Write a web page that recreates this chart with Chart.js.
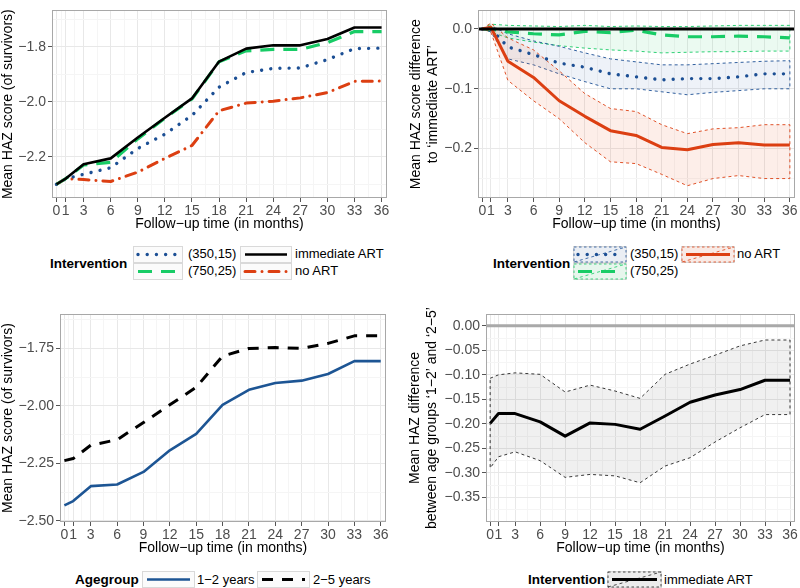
<!DOCTYPE html>
<html><head><meta charset="utf-8">
<script src="https://cdn.jsdelivr.net/npm/chart.js@4.4.0/dist/chart.umd.min.js"></script>
<style>
body{margin:0;background:#fff;width:800px;height:588px;position:relative;overflow:hidden;font-family:"Liberation Sans",Arial,sans-serif;}
canvas{position:absolute;}
.t{position:absolute;font-size:13px;line-height:16px;color:#000;white-space:nowrap;}
.b{font-weight:bold;font-size:13.5px;}
svg{position:absolute;}
</style></head>
<body>
<canvas id="c1" width="400" height="235" style="left:0;top:0"></canvas>
<canvas id="c2" width="400" height="235" style="left:400px;top:0"></canvas>
<canvas id="c3" width="400" height="259" style="left:0;top:300px"></canvas>
<canvas id="c4" width="400" height="259" style="left:400px;top:300px"></canvas>
<script>
// ---------------- data ----------------
const months = [0,1,3,6,9,12,15,18,21,24,27,30,33,36];
const xMinor = [0.5,2,4.5,7.5,10.5,13.5,16.5,19.5,22.5,25.5,28.5,31.5,34.5];
const seriesNames = ['(350,15)','(750,25)','immediate ART','no ART'];
const ageNames = ['1\u22122 years','2\u22125 years'];

// panel 1: mean HAZ of survivors by intervention
const hazImmediate = [-2.30,-2.28,-2.227,-2.206,-2.13,-2.058,-1.988,-1.854,-1.807,-1.795,-1.795,-1.772,-1.73,-1.73];
const haz750 = [-2.30,-2.28,-2.23,-2.22,-2.135,-2.06,-1.99,-1.855,-1.815,-1.81,-1.81,-1.785,-1.745,-1.745];
const haz350 = [-2.30,-2.28,-2.264,-2.24,-2.17,-2.118,-2.05,-1.947,-1.894,-1.879,-1.877,-1.847,-1.807,-1.805];
const hazNoArt = [-2.30,-2.28,-2.283,-2.29,-2.256,-2.206,-2.159,-2.033,-2.005,-1.998,-1.986,-1.967,-1.926,-1.925];

// panel 2: difference to immediate ART with intervals
const diff750 = [0,0,-0.005,-0.008,-0.01,-0.004,-0.006,-0.002,-0.01,-0.013,-0.013,-0.012,-0.013,-0.015];
const diff750Hi = [0,0.008,0.006,0.005,0.004,0.006,0.004,0.005,0.004,0.004,0.005,0.006,0.006,0.006];
const diff750Lo = [0,-0.005,-0.015,-0.022,-0.028,-0.032,-0.035,-0.037,-0.04,-0.039,-0.038,-0.038,-0.037,-0.037];
const diff350 = [0,0,-0.03,-0.043,-0.057,-0.064,-0.075,-0.08,-0.085,-0.083,-0.083,-0.08,-0.075,-0.075];
const diff350Hi = [0,0.005,-0.008,-0.02,-0.029,-0.04,-0.05,-0.055,-0.06,-0.06,-0.058,-0.056,-0.054,-0.053];
const diff350Lo = [0,-0.005,-0.05,-0.06,-0.075,-0.088,-0.1,-0.1,-0.105,-0.11,-0.106,-0.103,-0.1,-0.1];
const diffNoArt = [0,0.003,-0.054,-0.081,-0.12,-0.146,-0.17,-0.178,-0.198,-0.202,-0.193,-0.19,-0.194,-0.194];
const diffNoArtHi = [0,0.01,-0.015,-0.035,-0.07,-0.108,-0.133,-0.138,-0.16,-0.175,-0.167,-0.165,-0.16,-0.16];
const diffNoArtLo = [0,-0.005,-0.086,-0.12,-0.15,-0.19,-0.222,-0.225,-0.243,-0.262,-0.25,-0.245,-0.25,-0.25];

// panel 3: mean HAZ by age group
const hazAge12 = [-2.433,-2.414,-2.349,-2.342,-2.287,-2.193,-2.122,-1.995,-1.93,-1.90,-1.89,-1.861,-1.805,-1.805];
const hazAge25 = [-2.238,-2.229,-2.171,-2.147,-2.072,-1.995,-1.919,-1.783,-1.75,-1.746,-1.75,-1.728,-1.695,-1.695];

// panel 4: difference between age groups (immediate ART)
const ageDiff = [-0.199,-0.179,-0.179,-0.196,-0.225,-0.198,-0.201,-0.211,-0.184,-0.156,-0.141,-0.13,-0.111,-0.111];
const ageDiffHi = [-0.107,-0.10,-0.096,-0.099,-0.135,-0.121,-0.133,-0.148,-0.099,-0.078,-0.06,-0.041,-0.029,-0.029];
const ageDiffLo = [-0.29,-0.267,-0.257,-0.275,-0.309,-0.303,-0.306,-0.32,-0.286,-0.269,-0.237,-0.208,-0.181,-0.181];

// tick values
const p1Major = [-2.2,-2.0,-1.8], p1Minor = [-2.3,-2.1,-1.9,-1.7];
const p2Major = [-0.2,-0.1,0.0], p2Minor = [-0.25,-0.15,-0.05];
const p3Major = [-2.5,-2.25,-2.0,-1.75], p3Minor = [-2.375,-2.125,-1.875,-1.625];
const p4Major = [-0.35,-0.30,-0.25,-0.20,-0.15,-0.10,-0.05,0.00];
const p4Minor = [-0.375,-0.325,-0.275,-0.225,-0.175,-0.125,-0.075,-0.025];

// ---------------- styling ----------------
const FONT = '"Liberation Sans", Arial, sans-serif';
const BLUE = '#1c4f94', GREEN = '#18cc66', RED = '#dc3f12', BLACK = '#000000', AGEBLUE = '#1d5594';

function mkTicks(major, minor){
  return major.map(v=>({value:v,isMinor:false})).concat(minor.map(v=>({value:v,isMinor:true}))).sort((a,b)=>a.value-b.value);
}
function fmt(d){ return v => (v < -1e-9 ? '\u2212' : '') + Math.abs(v).toFixed(d); }
const gridColor = c => (c.tick && c.tick.isMinor) ? '#f5f5f5' : '#e8e8e8';
const tickColor = c => (c.tick && c.tick.isMinor) ? 'rgba(0,0,0,0)' : '#555555';

function axes(o){
  return {
    x:{type:'linear', min:-0.5, max:36.6,
      afterBuildTicks:s=>{s.ticks=mkTicks(months,xMinor);},
      afterFit:s=>{s.height=37;},
      grid:{color:gridColor,tickColor:tickColor,tickLength:4,lineWidth:1},
      border:{display:false},
      ticks:{autoSkip:false,maxRotation:0,minRotation:0,padding:1,color:'#4d4d4d',font:{family:FONT,size:14},
        callback:(v,i,t)=>t[i].isMinor?'':String(v)},
      title:{display:true,text:'Follow\u2212up time (in months)',color:'#000',font:{family:FONT,size:14},padding:{top:0,bottom:2}}},
    y:{type:'linear',min:o.min,max:o.max,
      afterBuildTicks:s=>{s.ticks=mkTicks(o.major,o.minor);},
      afterFit:s=>{s.width=o.w;},
      grid:{color:gridColor,tickColor:tickColor,tickLength:4,lineWidth:1},
      border:{display:false},
      ticks:{autoSkip:false,padding:2,color:'#4d4d4d',font:{family:FONT,size:14},
        callback:(v,i,t)=>t[i].isMinor?'':o.fmt(v)},
      title:{display:true,text:o.title,color:'#000',font:{family:FONT,size:14,lineHeight:1.2},padding:{top:o.tp,bottom:0}}}
  };
}

function line(arr, color, width, dash, cap){
  return {data: months.map((m,i)=>({x:m,y:arr[i]})), borderColor:color, borderWidth:width,
    borderDash:dash||[], borderCapStyle:cap||'butt', borderJoinStyle:'round', pointRadius:0, fill:false, tension:0};
}
function ribbon(hi, lo, color, fillColor){
  const outline = months.map((m,i)=>({x:m,y:hi[i]}))
    .concat(months.slice().reverse().map((m,j)=>({x:m,y:lo[months.length-1-j]})))
    .concat([{x:months[0],y:hi[0]}]);
  return [
    {data:outline, borderColor:color, borderWidth:0.9, borderDash:[3,3], pointRadius:0, fill:false, tension:0},
    {data:months.map((m,i)=>({x:m,y:hi[i]})), borderWidth:0, pointRadius:0, fill:'+1', backgroundColor:fillColor, tension:0},
    {data:months.map((m,i)=>({x:m,y:lo[i]})), borderWidth:0, pointRadius:0, fill:false, tension:0}
  ];
}

const boxPlugin = {id:'box', afterDatasetsDraw(chart){
  const a=chart.chartArea, c=chart.ctx; c.save(); c.strokeStyle='#a8a8a8'; c.lineWidth=1;
  c.strokeRect(Math.round(a.left)+0.5, Math.round(a.top)+0.5, Math.round(a.right-a.left)-1, Math.round(a.bottom-a.top)-1);
  c.restore();
}};
function hline(value, color, width){
  return {id:'hline', afterDatasetsDraw(chart){
    const a=chart.chartArea, c=chart.ctx, y=chart.scales.y.getPixelForValue(value);
    c.save(); c.strokeStyle=color; c.lineWidth=width; c.beginPath(); c.moveTo(a.left+1,y); c.lineTo(a.right-1,y); c.stroke(); c.restore();
  }};
}

function make(id, datasets, ax, pad, plugins){
  return new Chart(document.getElementById(id), {
    type:'line', data:{datasets},
    options:{responsive:false, animation:false, events:[],
      layout:{padding:pad},
      plugins:{legend:{display:false}, tooltip:{enabled:false}},
      scales:ax},
    plugins:[boxPlugin].concat(plugins||[])
  });
}

const DOT = [0.01, 9.2], DASH = [14, 9], DASHDOT = [10, 7, 0.01, 7];

// panel 1
make('c1', [
  line(hazImmediate, BLACK, 2.6),
  line(haz750, GREEN, 3.2, DASH),
  line(haz350, BLUE, 3.4, DOT, 'round'),
  line(hazNoArt, RED, 3, DASHDOT, 'round')
], axes({min:-2.35,max:-1.668,major:p1Major,minor:p1Minor,w:52,fmt:fmt(1),title:'Mean HAZ score (of survivors)',tp:0}),
{top:3,right:13,left:0,bottom:0});

// panel 2
make('c2', [
  line(diffNoArt, RED, 3),
  line(diff350, BLUE, 3.4, DOT, 'round'),
  line(diff750, GREEN, 3.2, DASH),
  ...ribbon(diffNoArtHi, diffNoArtLo, RED, 'rgba(236,90,40,0.10)'),
  ...ribbon(diff350Hi, diff350Lo, BLUE, 'rgba(40,90,160,0.08)'),
  ...ribbon(diff750Hi, diff750Lo, GREEN, 'rgba(30,200,100,0.09)')
], axes({min:-0.2825,max:0.031,major:p2Major,minor:p2Minor,w:78,fmt:fmt(1),title:['Mean HAZ score difference','to \u2018immediate ART\u2019'],tp:8}),
{top:6,right:5,left:0,bottom:0}, [hline(0, BLACK, 3)]);

// panel 3
make('c3', [
  line(hazAge12, AGEBLUE, 2.6),
  line(hazAge25, BLACK, 3, [11, 9])
], axes({min:-2.505,max:-1.60,major:p3Major,minor:p3Minor,w:60,fmt:fmt(2),title:'Mean HAZ score (of survivors)',tp:0}),
{top:14,right:14,left:0,bottom:0});

// panel 4
make('c4', [
  line(ageDiff, BLACK, 3),
  ...ribbon(ageDiffHi, ageDiffLo, '#222222', 'rgba(0,0,0,0.06)')
], axes({min:-0.40,max:0.024,major:p4Major,minor:p4Minor,w:86,fmt:fmt(2),title:['Mean HAZ difference','between age groups \u20181\u22122\u2019 and \u20182\u22125\u2019'],tp:7}),
{top:14,right:5,left:0,bottom:0}, [hline(0, '#a9a9a9', 3)]);

// ---------------- legends ----------------
function text(str, x, yc, bold){
  const d=document.createElement('div'); d.className='t'+(bold?' b':''); d.textContent=str;
  d.style.left=x+'px'; d.style.top=(yc-8)+'px'; document.body.appendChild(d);
}
function key(x, y, w, h, inner){
  const ns='http://www.w3.org/2000/svg';
  const s=document.createElementNS(ns,'svg'); s.setAttribute('width',w); s.setAttribute('height',h);
  s.style.left=x+'px'; s.style.top=y+'px';
  s.innerHTML='<rect x="0.5" y="0.5" width="'+(w-1)+'" height="'+(h-1)+'" fill="#fbfbfb" stroke="#d9d9d9"/>'+inner;
  document.body.appendChild(s);
}
function lk(w,h,color,width,dash,cap){
  return '<line x1="5" y1="'+(h/2)+'" x2="'+(w-5)+'" y2="'+(h/2)+'" stroke="'+color+'" stroke-width="'+width+'"'+
    (dash?' stroke-dasharray="'+dash+'"':'')+' stroke-linecap="'+(cap||'butt')+'"/>';
}
function rk(w,h,color,fill){
  return '<rect x="1" y="1" width="'+(w-2)+'" height="'+(h-2)+'" fill="'+fill+'" stroke="'+color+'" stroke-width="0.8" stroke-dasharray="2.5,2.5"/>'+
    '<line x1="1" y1="'+(h-1)+'" x2="'+(w-1)+'" y2="1" stroke="'+color+'" stroke-width="0.8" stroke-dasharray="3,3"/>';
}
// top-left
text('Intervention', 50, 264, true);
key(133,246,50,17, lk(50,17,BLUE,3.4,'0.01,9.2','round')); text(seriesNames[0],188,254);
key(133,263,50,17, lk(50,17,GREEN,3.2,'14,9')); text(seriesNames[1],188,271);
key(240,246,52,17, lk(52,17,BLACK,2.6)); text(seriesNames[2],295,254);
key(240,263,52,17, lk(52,17,RED,3,'10,7,0.01,7','round')); text(seriesNames[3],295,271);
// top-right
text('Intervention', 493, 264, true);
key(573,246,54,17, rk(54,17,BLUE,'rgba(40,90,160,0.08)')+lk(54,17,BLUE,3.4,'0.01,9.2','round')); text(seriesNames[0],630,254);
key(573,263,54,17, rk(54,17,GREEN,'rgba(30,200,100,0.09)')+lk(54,17,GREEN,3.2,'14,9')); text(seriesNames[1],630,271);
key(681,246,54,17, rk(54,17,RED,'rgba(236,90,40,0.10)')+lk(54,17,RED,3)); text(seriesNames[3],737,254);
// bottom-left
text('Agegroup', 75, 580, true);
key(142,571,53,17, lk(53,17,AGEBLUE,2.6)); text(ageNames[0],197,580);
key(257,571,53,17, lk(53,17,BLACK,3,'11,9')); text(ageNames[1],313,580);
// bottom-right
text('Intervention', 528, 580, true);
key(607,571,55,17, rk(55,17,'#222','rgba(0,0,0,0.06)')+lk(55,17,BLACK,3)); text(seriesNames[2],664,580);
</script>
</body></html>
